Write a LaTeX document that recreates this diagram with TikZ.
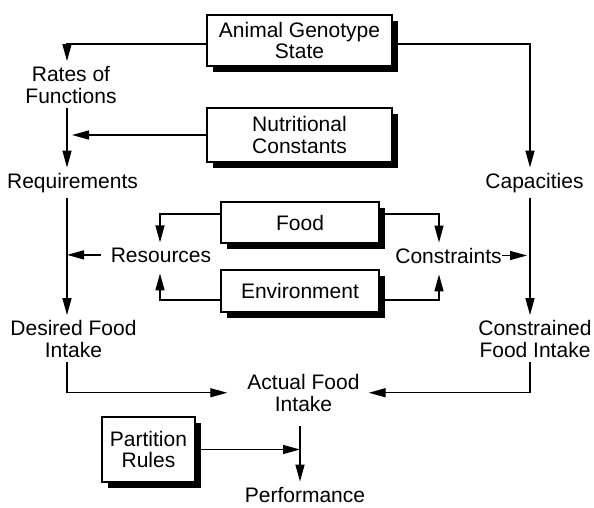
\documentclass[tikz,border=0pt]{standalone}
\usepackage{fontspec}
\setmainfont{Liberation Sans}
\usetikzlibrary{arrows.meta,shadows}
\begin{document}
\begin{tikzpicture}[x=1pt,y=-1pt,
  every node/.style={font=\fontsize{21}{21.5}\selectfont},
  lbl/.style={inner sep=5pt, align=center, anchor=base},
  box/.style={draw, fill=white, line width=1.3pt, align=center, inner sep=0pt,
    drop shadow={shadow xshift=6pt, shadow yshift=-6pt, opacity=1, fill=black}},
  arr/.style={-{Triangle[length=17pt,width=9pt]}, line width=1.4pt}]
\useasboundingbox (0,0) rectangle (594,507);
% boxes
\node[box, minimum width=185pt, minimum height=51pt] (animal) at (299.5,40.5) {Animal Genotype\\State};
\node[box, minimum width=185pt, minimum height=54pt] (nutr) at (299.5,135) {Nutritional\\Constants};
\node[box, minimum width=158pt, minimum height=41pt] (food) at (300,222.5) {Food};
\node[box, minimum width=158pt, minimum height=42pt] (env) at (300,291) {Environment};
\node[box, minimum width=93pt, minimum height=65pt] (part) at (148.5,449.5) {Partition\\Rules};
% labels
\node[lbl] (rates) at (71,103) {Rates of\\Functions};
\node[lbl] (req) at (72.5,188) {Requirements};
\node[lbl] (cap) at (534.5,188) {Capacities};
\node[lbl] (resources) at (161,262) {Resources};
\node[lbl] (constraints) at (448.5,263) {Constraints};
\node[lbl] (desired) at (73.5,357) {Desired Food\\Intake};
\node[lbl] (constrained) at (535,357) {Constrained\\Food Intake};
\node[lbl] (actual) at (303.5,411) {Actual Food\\Intake};
\node[lbl] (perf) at (305,502) {Performance};
% column coordinates
\coordinate (L) at (67,0);
\coordinate (R) at (530,0);
\coordinate (P) at (300,0);
\coordinate (CR) at (439,0);
\coordinate (RS) at (160,0);
% connectors
\draw[arr] ([yshift=-3.5pt]animal.west) -| (L |- rates.north);
\draw[arr] ([yshift=-3.5pt]animal.east) -| (R |- cap.north);
\draw[arr] (L |- rates.south) -- (L |- req.north);
\draw[arr] (nutr.west) -- ([xshift=5pt]L |- nutr.west);
\draw[arr] (L |- req.south) -- (L |- desired.north);
\draw[arr] ([xshift=-5pt]resources.west) -- (L |- resources.west);
\draw[arr] ([yshift=8.5pt]food.west) -| (RS |- resources.north);
\draw[arr] ([yshift=-9pt]env.west) -| ([yshift=-6pt]RS |- resources.south);
\draw[arr] ([yshift=8.5pt]food.east) -| (CR |- constraints.north);
\draw[arr] ([yshift=-9pt]env.east) -| ([yshift=-6pt]CR |- constraints.south);
\draw[arr] ([xshift=-5pt]constraints.east) -- ([xshift=-3pt]R |- constraints.east);
\draw[arr] (R |- cap.south) -- (R |- constrained.north);
\draw[arr] (L |- desired.south) |- ([xshift=-15pt]actual.west);
\draw[arr] (R |- constrained.south) |- ([xshift=4pt]actual.east);
\draw[arr] ([yshift=-10pt]P |- actual.south) -- (P |- perf.north);
\draw[arr] (part.east) -- (P |- part.east);
\end{tikzpicture}
\end{document}
